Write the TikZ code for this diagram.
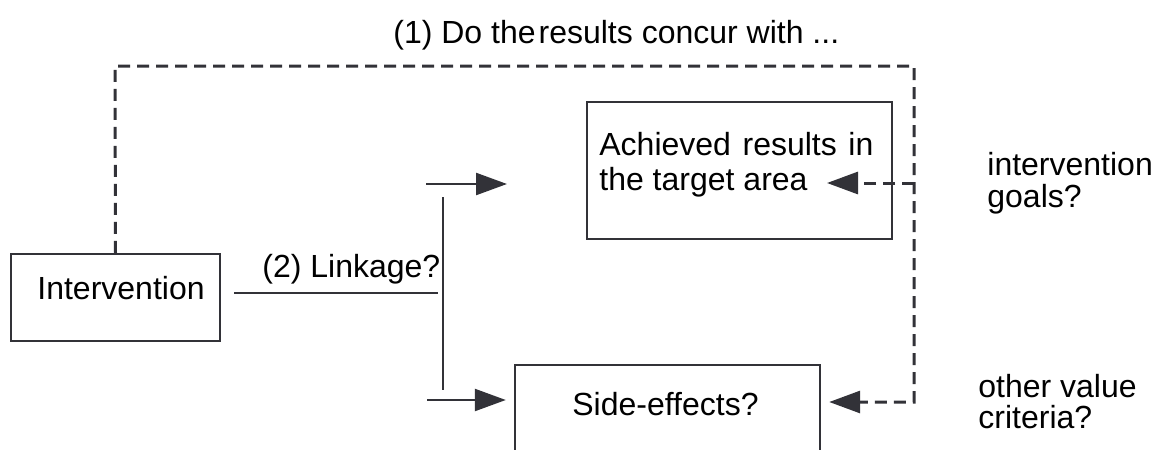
\documentclass[tikz,border=0pt]{standalone}
\usepackage{fontspec}
\setmainfont{Liberation Sans}
\usetikzlibrary{arrows.meta,calc}
\definecolor{ink}{RGB}{50,50,56}
\begin{document}
\begin{tikzpicture}[x=0.5pt,y=-0.5pt,
  box/.style={draw=ink,line width=1.2pt,rectangle,inner sep=0pt},
  txt/.style={anchor=base west,inner sep=0pt,font=\fontsize{16pt}{19pt}\selectfont},
  solidline/.style={draw=ink,line width=1.2pt},
  dashline/.style={draw=ink,line width=1.5pt,dash pattern=on 6pt off 3.5pt},
  tip/.style={-{Triangle[length=15.5pt,width=11pt]}}]
\useasboundingbox (0,0) rectangle (1164,450);
\clip (0,0) rectangle (1164,450);

% boxes
\node[box,minimum width=104.5pt,minimum height=43.5pt] (interv) at (115.5,297.5) {};
\node[box,minimum width=152.5pt,minimum height=68.5pt] (achieved) at (739.5,170.5) {};
\node[box,minimum width=152.5pt,minimum height=67.5pt] (side) at (667.5,432.5) {};

% texts
\node[txt] (tquestion) at (393,43) {(1) Do the\hspace{1.5pt}results concur with ...};
\node[txt] (tinterv) at (37,299) {Intervention};
\node[txt] (tach1) at (599,155) {\makebox[137pt][s]{Achieved results in}};
\node[txt] (tach2) at (599,190) {the target area};
\node[txt] (tside) at (572,415) {Side-effects?};
\node[txt] (tlink) at (262,277) {(2) Linkage?};
\node[txt] (tgoal1) at (987,175) {intervention};
\node[txt] (tgoal2) at (987,207) {goals?};
\node[txt] (tcrit1) at (978,397) {other value};
\node[txt] (tcrit2) at (978,428) {criteria?};

% linkage fork
\coordinate (bartop) at (443,197);
\coordinate (barbot) at (443,390);
\coordinate (uptail) at (426,184);
\coordinate (uptip) at (507,184);
\coordinate (lowtail) at (427,400);
\draw[solidline,shorten <=6.5pt,shorten >=2.5pt] (interv.east |- 0,293) -- (443,293);
\draw[solidline] (bartop) -- (barbot);
\draw[solidline,tip] (uptail) -- (uptip);
\draw[solidline,tip,shorten >=4pt] (lowtail) -- (lowtail -| side.west);

% evaluation loop
\coordinate (tl) at (115,66);
\coordinate (tr) at (914,66);
\coordinate (br) at (914,402);
\coordinate (mr) at (914,183);
\coordinate (achtip) at (827,183);
\draw[dashline,tip,shorten >=4pt] (interv.north) -- (tl) -- (tr) -- (br) -- (br -| side.east);
\draw[dashline,tip] (mr) -- (achtip);
\end{tikzpicture}
\end{document}
